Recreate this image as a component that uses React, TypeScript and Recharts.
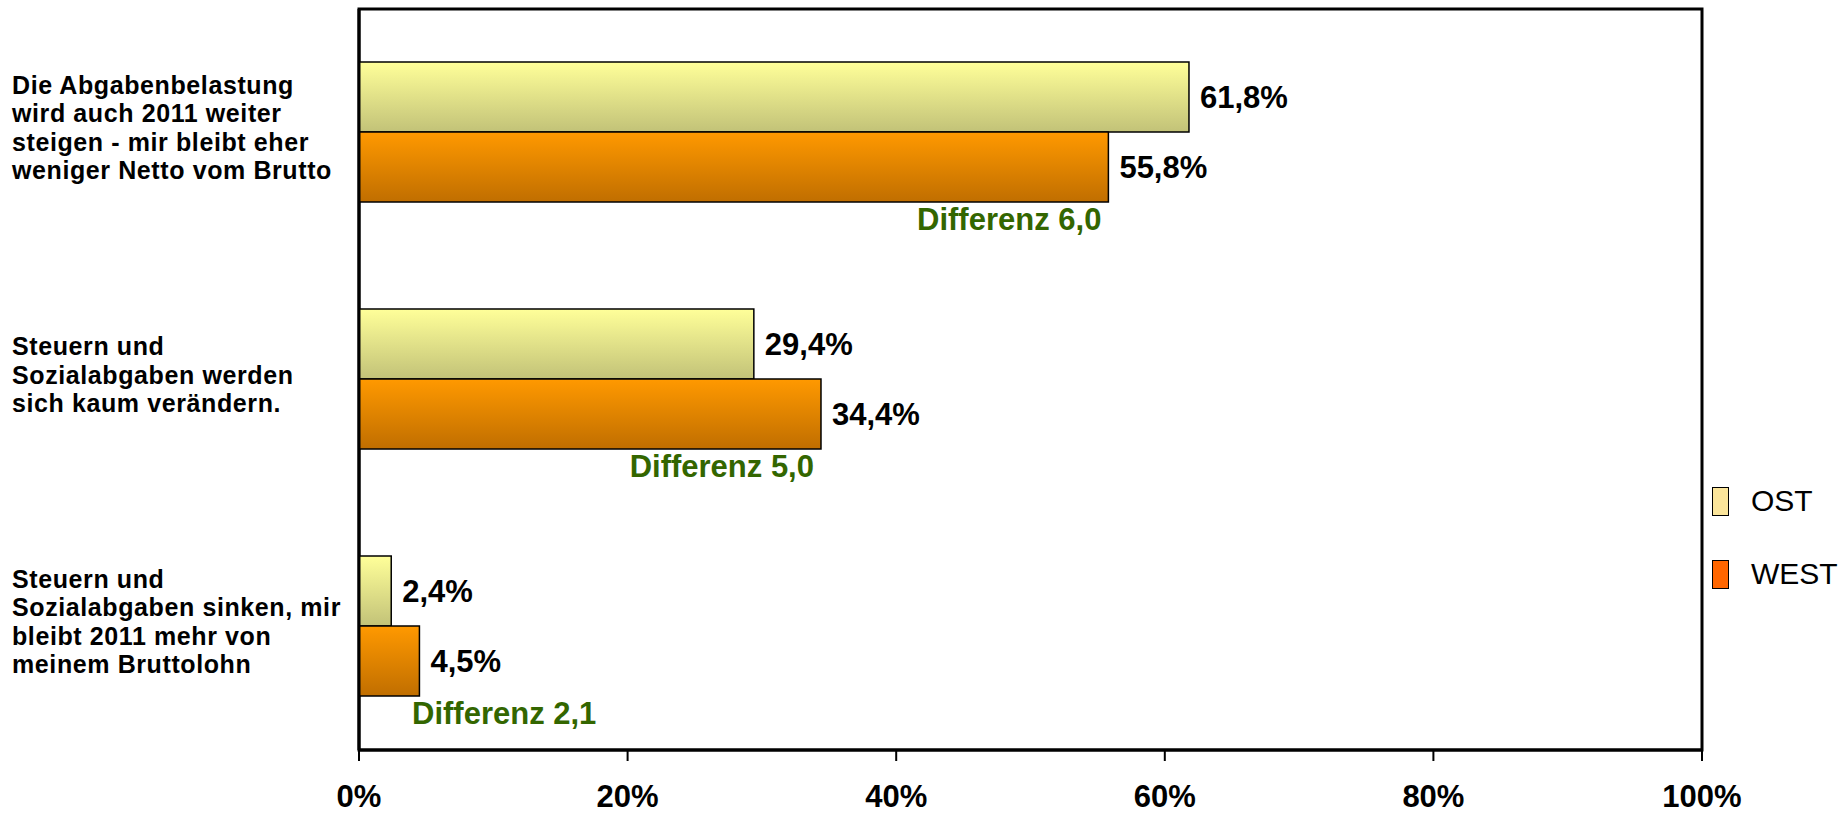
import {
    BarChart,
    Bar,
    XAxis,
    YAxis,
    LabelList,
    ReferenceArea,
} from 'recharts'

// categories (line breaks as in the original chart)
const categories = [
    'Die Abgabenbelastung\nwird auch 2011 weiter\nsteigen - mir bleibt eher\nweniger Netto vom Brutto',
    'Steuern und\nSozialabgaben werden\nsich kaum verändern.',
    'Steuern und\nSozialabgaben sinken, mir\nbleibt 2011 mehr von\nmeinem Bruttolohn',
]
const ostValues = [61.8, 29.4, 2.4]
const westValues = [55.8, 34.4, 4.5]
const diffLabels = ['Differenz 6,0', 'Differenz 5,0', 'Differenz 2,1']
const xTicks = [0, 20, 40, 60, 80, 100]
const seriesNames = ['OST', 'WEST']
const legendColors = ['#FBE59B', '#FF6600']

const FONT = '"Liberation Sans", Arial, sans-serif'

const data = categories.map((name, i) => ({
    name,
    ost: ostValues[i],
    west: westValues[i],
    diff: diffLabels[i],
}))

const fmtPct = (v: unknown) => Number(v).toFixed(1).replace('.', ',') + '%'

function CategoryTick(props: any) {
    const { y, payload } = props
    const lines = String(payload.value).split('\n')
    const lh = 28.3
    const first = y - ((lines.length - 1) * lh) / 2 + 4
    return (
        <text x={12} y={first} textAnchor='start' fontFamily={FONT} fontWeight='bold' fontSize={25} letterSpacing={0.6} fill='#000'>
            {lines.map((l, i) => (
                <tspan key={i} x={12} y={first + i * lh}>{l}</tspan>
            ))}
        </text>
    )
}

function DiffLabel(props: any) {
    const { x, y, width, height, index } = props
    const wide = width > 200
    return (
        <text
            x={wide ? x + width - 7 : x + 53}
            y={y + height + 28}
            textAnchor={wide ? 'end' : 'start'}
            fontFamily={FONT}
            fontWeight='bold'
            fontSize={31}
            fill='#336600'
        >
            {diffLabels[index]}
        </text>
    )
}

function LegendBox() {
    return (
        <div style={{ position: 'absolute', left: 1712, top: 486, fontFamily: FONT }}>
            {seriesNames.map((n, i) => (
                <div key={n} style={{ display: 'flex', alignItems: 'center', height: 30, marginBottom: 43 }}>
                    <div style={{ width: 15, height: 27, background: legendColors[i], border: '1.5px solid #000' }} />
                    <span style={{ marginLeft: 22, fontSize: 30, color: '#000' }}>{n}</span>
                </div>
            ))}
        </div>
    )
}

export default function App() {
    return (
        <div style={{ position: 'absolute', left: 0, top: 0, width: 1848, height: 814, background: '#fff' }}>
            <BarChart
                width={1848}
                height={814}
                data={data}
                layout='vertical'
                margin={{ top: 9, right: 146, bottom: 0, left: 0 }}
                barCategoryGap='21.5%'
                barGap={0}
            >
                <defs>
                    <linearGradient id='gOst' x1='0' y1='0' x2='0' y2='1'>
                        <stop offset='0%' stopColor='#FFFF99' />
                        <stop offset='100%' stopColor='#C2C278' />
                    </linearGradient>
                    <linearGradient id='gWest' x1='0' y1='0' x2='0' y2='1'>
                        <stop offset='0%' stopColor='#FF9900' />
                        <stop offset='100%' stopColor='#C06E00' />
                    </linearGradient>
                </defs>
                <ReferenceArea x1={0} x2={100} fill='none' stroke='#000' strokeWidth={3} />
                <XAxis
                    type='number'
                    domain={[0, 100]}
                    ticks={xTicks}
                    tickFormatter={(v) => v + '%'}
                    height={64}
                    axisLine={{ stroke: '#000', strokeWidth: 3 }}
                    tickLine={{ stroke: '#000', strokeWidth: 2 }}
                    tickSize={11}
                    tickMargin={24}
                    tick={{ fill: '#000', fontSize: 31, fontWeight: 'bold', fontFamily: FONT }}
                    interval={0}
                />
                <YAxis
                    type='category'
                    dataKey='name'
                    width={359}
                    axisLine={{ stroke: '#000', strokeWidth: 3 }}
                    tickLine={false}
                    tick={<CategoryTick />}
                    interval={0}
                />
                <Bar dataKey='ost' name='OST' fill='url(#gOst)' stroke='#000' strokeWidth={1.5} isAnimationActive={false}>
                    <LabelList
                        dataKey='ost'
                        position='right'
                        offset={11}
                        formatter={fmtPct}
                        fill='#000'
                        fontSize={31}
                        fontWeight='bold'
                        fontFamily={FONT}
                    />
                </Bar>
                <Bar dataKey='west' name='WEST' fill='url(#gWest)' stroke='#000' strokeWidth={1.5} isAnimationActive={false}>
                    <LabelList
                        dataKey='west'
                        position='right'
                        offset={11}
                        formatter={fmtPct}
                        fill='#000'
                        fontSize={31}
                        fontWeight='bold'
                        fontFamily={FONT}
                    />
                    <LabelList dataKey='diff' content={<DiffLabel />} />
                </Bar>
            </BarChart>
            <LegendBox />
        </div>
    )
}
